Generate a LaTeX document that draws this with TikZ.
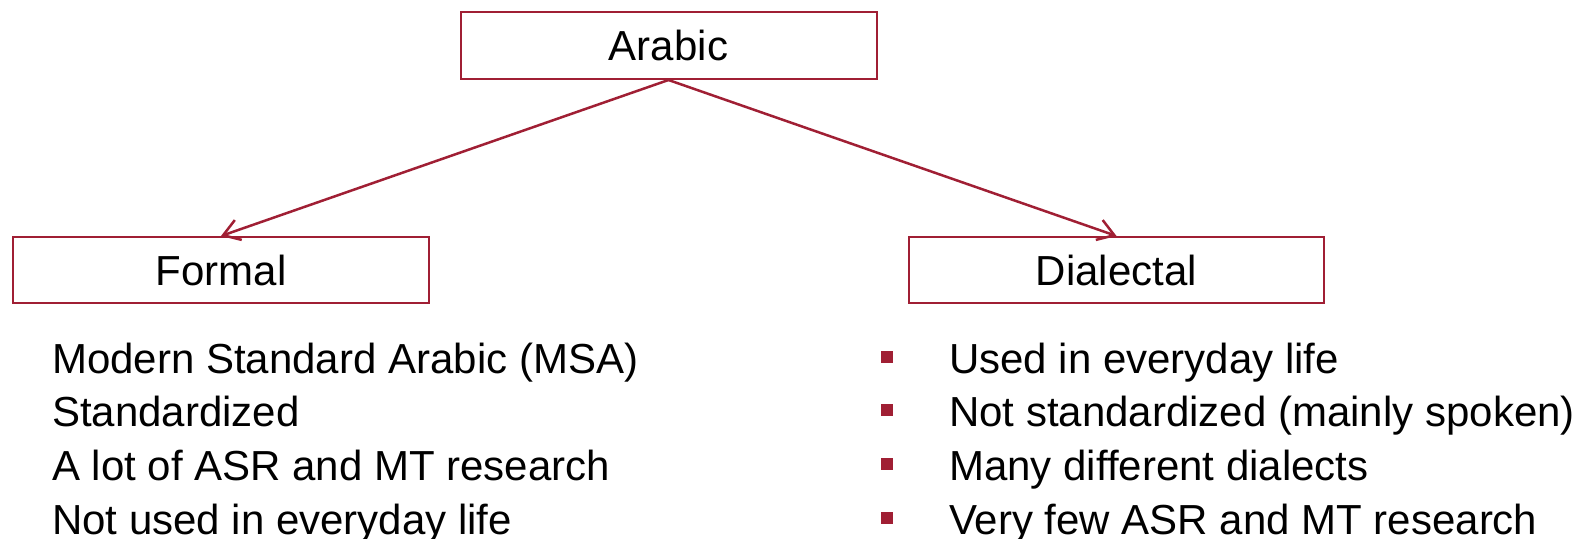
\documentclass[tikz,border=0pt]{standalone}
\usepackage{fontspec}
\setmainfont{Liberation Sans}
\usetikzlibrary{arrows.meta}
\definecolor{wine}{RGB}{160,31,52}
\begin{document}
\begin{tikzpicture}[x=1pt,y=-1pt,
  every node/.style={font=\fontsize{42}{50}\selectfont, text=black},
  catbox/.style={draw=wine, line width=2pt, fill=white, minimum width=416pt,
    minimum height=67pt, inner sep=0pt},
  branch/.style={draw=wine, line width=2.5pt,
    -{Straight Barb[length=16pt,width=21pt,line width=2.5pt]}},
  item/.style={anchor=base west, inner sep=0pt},
  sqbullet/.style={fill=wine, minimum size=12pt, inner sep=0pt}]
  \useasboundingbox (0,0) rectangle (1587,538);

  % category boxes
  \node[catbox] (arabic) at (668.5,45.5) {Arabic};
  \node[catbox, minimum height=66pt] (formal) at (221,270) {Formal};
  \node[catbox, minimum width=415pt, minimum height=66pt] (dialectal) at (1116.5,270) {Dialectal};

  % branches
  \draw[branch] (arabic.south) -- (formal.north);
  \draw[branch] (arabic.south) -- (dialectal.north);

  % properties of the formal variety
  \node[item] (f1) at (52,373) {Modern Standard Arabic (MSA)};
  \node[item] (f2) at (52,426.7) {Standardized};
  \node[item] (f3) at (52,480.3) {A lot of ASR and MT research};
  \node[item] (f4) at (52,534) {Not used in everyday life};

  % properties of the dialects
  \node[item] (d1) at (949,373) {Used in everyday life};
  \node[item] (d2) at (949,426.7) {Not standardized (mainly spoken)};
  \node[item] (d3) at (949,480.3) {Many different dialects};
  \node[item] (d4) at (949,534) {Very few ASR and MT research};

  \foreach \i in {1,...,4}
    \node[sqbullet] (b\i) at ([xshift=-62.3pt,yshift=16.5pt]d\i.base west) {};
\end{tikzpicture}
\end{document}
